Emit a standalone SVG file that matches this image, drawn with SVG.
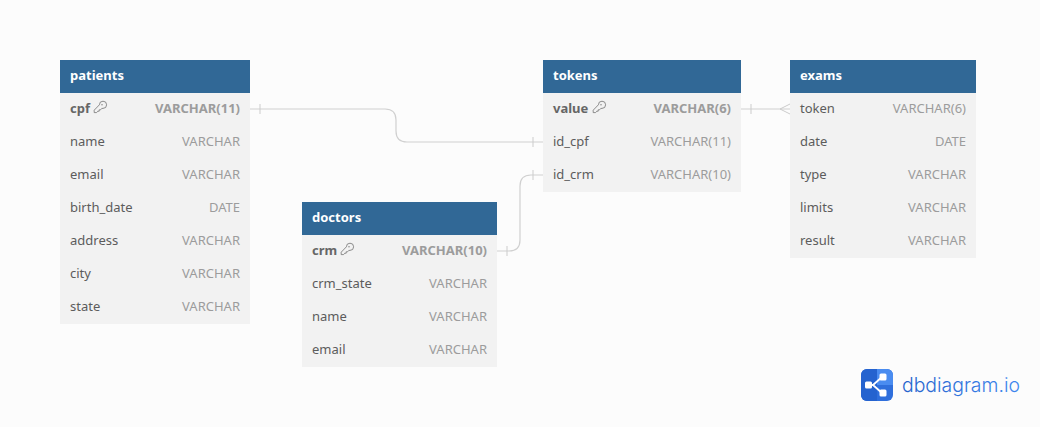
<svg xmlns="http://www.w3.org/2000/svg" width="1040" height="427" viewBox="0 0 1040 427">
<defs>
<g id="key"><path d="M0.4 -3.2a3.6 3.6 0 1 1 3.6 3.6l-1.2 0l-1.2 1.4h-1.4v1.4h-1.4l-1.2 1.4h-2.4v-2.4Z" fill="none" stroke="#7a7a7a" stroke-width="0.85"/><circle cx="3" cy="-3.2" r="0.7" fill="#7a7a7a"/></g>
<linearGradient id="lg" x1="0" x2="1" y1="0" y2="0"><stop offset="0" stop-color="#2462cc"/><stop offset="1" stop-color="#3f86ee"/></linearGradient>
</defs>
<style>
text{font-family:"Noto Sans","Open Sans",sans-serif;font-size:13px;fill:#5c5c5c}
.body{fill:#f2f2f2}
.head{fill:#316896}
.title{font-weight:700;fill:#fff}
.pk{font-weight:700;fill:#666}
.type{text-anchor:end;fill:#9c9c9c}
.pt{font-weight:700}
.c{fill:none;stroke:#d0d0d0;stroke-width:1.2}
.t{fill:none;stroke:#cccccc;stroke-width:1}
.n{fill:#fff}
</style>
<rect width="1040" height="427" fill="#fcfcfc"/>
<g id="connectors">
<path class="c" d="M250 109H385Q396 109 396 120V131Q396 142 407 142H543"/>
<path class="t" d="M260 104V114M533 137V147"/>
<path class="c" d="M497 251H509Q520 251 520 240V186Q520 175 531 175H543"/>
<path class="t" d="M507 246V256M533 170V180"/>
<path class="c" d="M741 109H790"/>
<path class="t" d="M751 104V114M780 109L790 104M780 109L790 114"/>
</g>
<g id="patients">
<rect class="body" x="60" y="60" width="190" height="264"/><rect class="head" x="60" y="60" width="190" height="33"/>
<text class="title" x="70" y="80">patients</text>
<text class="pk" x="70" y="113">cpf</text><use href="#key" x="99" y="108"/><text class="type pt" x="240" y="113">VARCHAR(11)</text>
<text x="70" y="146">name</text><text class="type" x="240" y="146">VARCHAR</text>
<text x="70" y="179">email</text><text class="type" x="240" y="179">VARCHAR</text>
<text x="70" y="212">birth_date</text><text class="type" x="240" y="212">DATE</text>
<text x="70" y="245">address</text><text class="type" x="240" y="245">VARCHAR</text>
<text x="70" y="278">city</text><text class="type" x="240" y="278">VARCHAR</text>
<text x="70" y="311">state</text><text class="type" x="240" y="311">VARCHAR</text>
</g>
<g id="doctors">
<rect class="body" x="302" y="202" width="195" height="165"/><rect class="head" x="302" y="202" width="195" height="33"/>
<text class="title" x="312" y="222">doctors</text>
<text class="pk" x="312" y="255">crm</text><use href="#key" x="346" y="250"/><text class="type pt" x="487" y="255">VARCHAR(10)</text>
<text x="312" y="288">crm_state</text><text class="type" x="487" y="288">VARCHAR</text>
<text x="312" y="321">name</text><text class="type" x="487" y="321">VARCHAR</text>
<text x="312" y="354">email</text><text class="type" x="487" y="354">VARCHAR</text>
</g>
<g id="tokens">
<rect class="body" x="543" y="60" width="198" height="132"/><rect class="head" x="543" y="60" width="198" height="33"/>
<text class="title" x="553" y="80">tokens</text>
<text class="pk" x="553" y="113">value</text><use href="#key" x="598" y="108"/><text class="type pt" x="731" y="113">VARCHAR(6)</text>
<text x="553" y="146">id_cpf</text><text class="type" x="731" y="146">VARCHAR(11)</text>
<text x="553" y="179">id_crm</text><text class="type" x="731" y="179">VARCHAR(10)</text>
</g>
<g id="exams">
<rect class="body" x="790" y="60" width="186" height="198"/><rect class="head" x="790" y="60" width="186" height="33"/>
<text class="title" x="800" y="80">exams</text>
<text x="800" y="113">token</text><text class="type" x="966" y="113">VARCHAR(6)</text>
<text x="800" y="146">date</text><text class="type" x="966" y="146">DATE</text>
<text x="800" y="179">type</text><text class="type" x="966" y="179">VARCHAR</text>
<text x="800" y="212">limits</text><text class="type" x="966" y="212">VARCHAR</text>
<text x="800" y="245">result</text><text class="type" x="966" y="245">VARCHAR</text>
</g>
<g id="logo">
<rect x="861" y="369" width="32" height="32" rx="6" fill="#2f6fdc"/>
<path d="M877 369H887a6 6 0 0 1 6 6V385H877Z" fill="#4a8cf0"/>
<path d="M861 375a6 6 0 0 1 6-6H877V401H867a6 6 0 0 1-6-6Z" fill="#2563cf"/>
<path d="M868 385H873L882 377M873 385L882 393" stroke="#fff" stroke-width="1.8" fill="none"/>
<rect class="n" x="865" y="381.500" width="7" height="7" rx="1.500"/><rect class="n" x="879.500" y="373.500" width="7" height="7" rx="1.500"/><rect class="n" x="879.500" y="389.500" width="7" height="7" rx="1.500"/>
<text x="902" y="392" style="font-family:Inter,'Noto Sans',sans-serif;font-size:19.4px;font-weight:300;fill:url(#lg)">dbdiagram.io</text>
</g>
</svg>
